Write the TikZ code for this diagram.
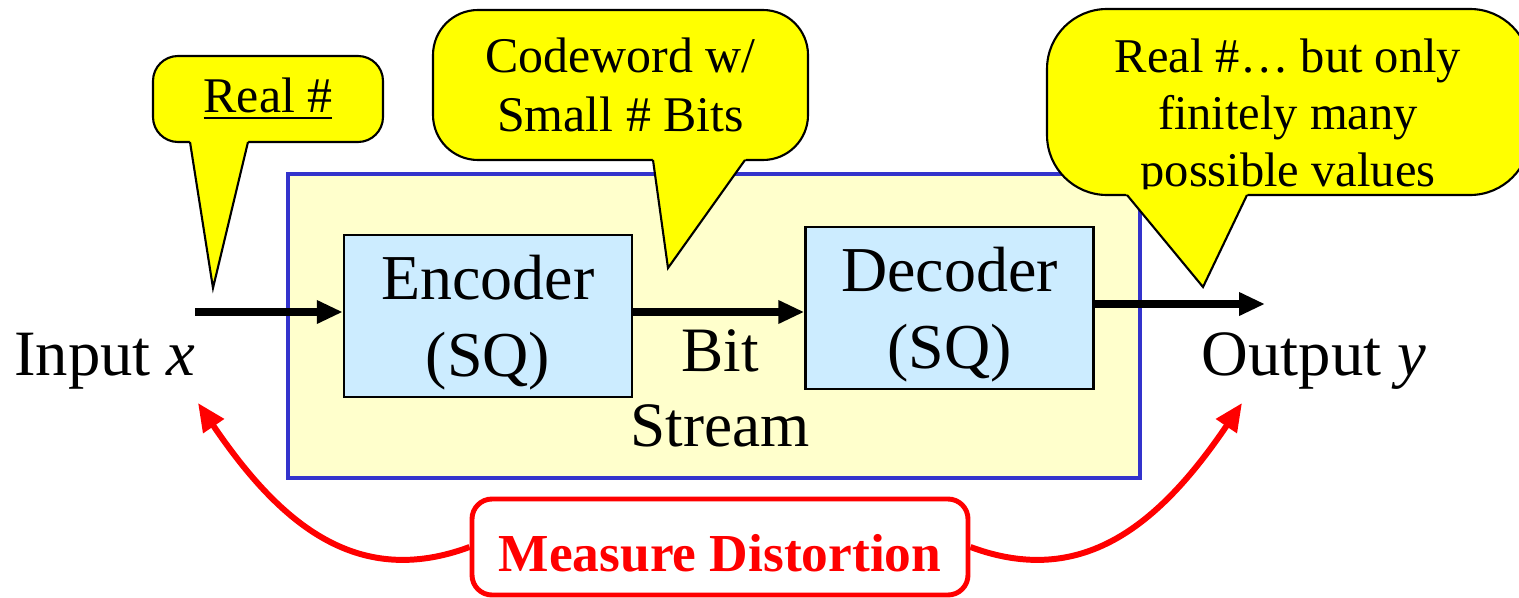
\documentclass[tikz,border=0pt]{standalone}
\usepackage{fontspec}
\setmainfont{Liberation Serif}
\usetikzlibrary{arrows.meta,calc}

\definecolor{bubbleyellow}{HTML}{FFFF00}
\definecolor{panelfill}{HTML}{FFFFCC}
\definecolor{panelblue}{HTML}{3333CC}
\definecolor{blockblue}{HTML}{CCECFF}

\tikzset{
  block/.style={draw=black, line width=0.7pt, fill=blockblue, minimum width=2.88cm,
    minimum height=1.62cm, align=center, inner sep=0pt, text depth=0pt,
    font=\fontsize{18.2}{22}\selectfont},
  iolabel/.style={inner sep=0pt, font=\fontsize{18.4}{21.3}\selectfont},
  bubble/.style={draw=black, line width=0.6pt, fill=bubbleyellow, align=center,
    inner sep=0pt, font=\fontsize{14.2}{16.6}\selectfont},
  tailedge/.style={line width=0.6pt},
  flow/.style={line width=2pt, -{Triangle[length=0.26cm,width=0.22cm]}},
  measure/.style={red, line width=1.7pt, -{Triangle[length=0.28cm,width=0.24cm]}}
}

\begin{document}
\begin{tikzpicture}

\path[use as bounding box, clip] (0,0) rectangle (15.19,5.97);

% quantizer panel
\node[draw=panelblue, line width=1.1pt, fill=panelfill, minimum width=8.52cm,
  minimum height=3.04cm] (panel) at (7.14,2.71) {};

\node[block] (enc) at (4.88,2.81) {Encoder\\(SQ)};
\node[block] (dec) at (9.495,2.89) {Decoder\\(SQ)};

\node[iolabel, anchor=base] (inp) at (1.05,2.22) {Input \textit{x}};
\node[iolabel, anchor=base] (outp) at (13.14,2.22) {Output \textit{y}};
\node[iolabel, align=center, font=\fontsize{18}{21.3}\selectfont] (bits) at (7.2,2.09) {Bit\\Stream};

\coordinate (xin) at (1.95,2.85);
\coordinate (yout) at (12.65,2.93);
\draw[flow] (xin) -- (xin -| enc.west);
\draw[flow] (enc.east |- xin) -- (dec.west |- xin);
\draw[flow] (dec.east |- yout) -- (yout);

% callouts
\node[bubble, rounded corners=0.25cm, minimum width=2.30cm, minimum height=0.86cm]
  (real) at (2.68,4.98) {\underline{Real \#}};
\coordinate (realtip) at (2.13,3.09);
\coordinate (reala) at (1.90,4.55);
\coordinate (realb) at (2.48,4.55);
\fill[bubbleyellow] (realtip) -- ($(realtip)!1.05!(reala)$) -- ($(realtip)!1.05!(realb)$) -- cycle;
\draw[tailedge] (reala) -- (realtip) -- (realb);

\node[bubble, rounded corners=0.45cm, minimum width=3.75cm, minimum height=1.50cm]
  (code) at (6.205,5.12) {Codeword w/\\Small \# Bits};
\coordinate (codetip) at (6.68,3.29);
\coordinate (codea) at (6.53,4.37);
\coordinate (codeb) at (7.45,4.37);
\fill[bubbleyellow] (codetip) -- ($(codetip)!1.06!(codea)$) -- ($(codetip)!1.06!(codeb)$) -- cycle;
\draw[tailedge] (codea) -- (codetip) -- (codeb);

\node[bubble, rounded corners=0.6cm, minimum width=4.83cm, minimum height=1.86cm]
  (fin) at (12.885,4.95) {};
\node[align=center, inner sep=0pt, font=\fontsize{13.8}{16.3}\selectfont]
  (fintext) at (12.88,4.79) {Real \#… but only\\finitely many\\possible values};
\coordinate (fintip) at (12.03,3.10);
\coordinate (fina) at (11.27,4.02);
\coordinate (finb) at (12.47,4.02);
\fill[bubbleyellow] (fintip) -- ($(fintip)!1.06!(fina)$) -- ($(fintip)!1.06!(finb)$) -- cycle;
\draw[tailedge] (fina) -- (fintip) -- (finb);

% distortion
\node[draw=red, line width=1.4pt, rounded corners=0.2cm, fill=white, text=red,
  minimum width=4.96cm, minimum height=0.96cm, text height=0.49cm, text depth=0pt,
  font=\bfseries\fontsize{15.2}{18}\selectfont]
  (dist) at (7.20,0.50) {Measure Distortion};
\coordinate (xtip) at (1.98,1.94);
\coordinate (ytip) at (12.42,1.94);
\draw[measure] (dist.west) .. controls (3.59,0.09) and (2.82,0.70) .. (xtip);
\draw[measure] (dist.east) .. controls (10.81,0.09) and (11.58,0.70) .. (ytip);

\end{tikzpicture}
\end{document}
